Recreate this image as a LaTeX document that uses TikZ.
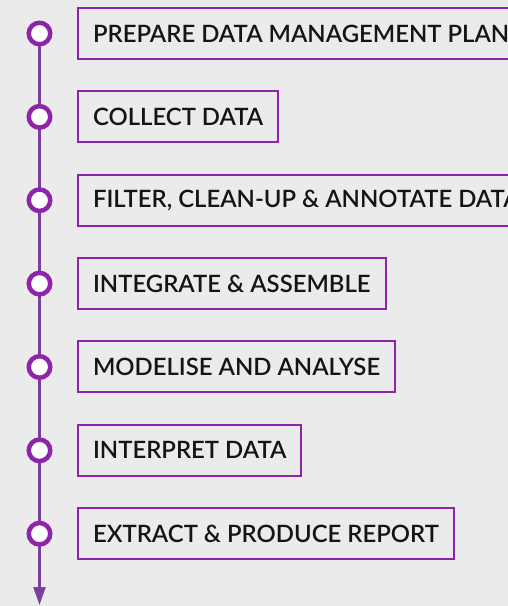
\documentclass[tikz,border=0pt]{standalone}
\usepackage{fontspec}
\setmainfont{Lato}[BoldFont={Lato Semibold}]
\usetikzlibrary{arrows.meta}
\definecolor{bg}{RGB}{235,235,235}
\definecolor{boxpurple}{RGB}{142,36,170}
\definecolor{linepurple}{RGB}{123,63,160}
\definecolor{txt}{RGB}{20,20,20}
\begin{document}
\begin{tikzpicture}[x=1pt,y=-1pt,
  stepbox/.style={draw=boxpurple, line width=2pt, anchor=west, minimum height=51pt,
    inner xsep=15pt, font=\fontsize{23.9}{26}\selectfont\bfseries, text=txt},
  dot/.style={circle, draw=boxpurple, line width=4.5pt, fill=white, minimum size=21.5pt, inner sep=0pt},
  flow/.style={draw=linepurple, line width=2.5pt, -{Triangle[length=18pt,width=12pt]}}]
\useasboundingbox (0,0) rectangle (508,606);
\clip (0,0) rectangle (508,606);
\fill[bg] (0,0) rectangle (508,606);
\foreach \i/\t in {1/PREPARE DATA MANAGEMENT PLAN, 2/COLLECT DATA, 3/{FILTER, CLEAN-UP \& ANNOTATE DATA}, 4/INTEGRATE \& ASSEMBLE, 5/MODELISE AND ANALYSE, 6/INTERPRET DATA, 7/EXTRACT \& PRODUCE REPORT}{
  \node[stepbox] (b\i) at (77, {33.5+83.37*(\i-1)}) {\t};
}
\coordinate (end) at (39.5,605);
\draw[flow] (39.5,33.5) -- (end);
\foreach \i in {1,...,7}{
  \node[dot] (d\i) at (39.5, {33.5+83.37*(\i-1)}) {};
}
\end{tikzpicture}
\end{document}
